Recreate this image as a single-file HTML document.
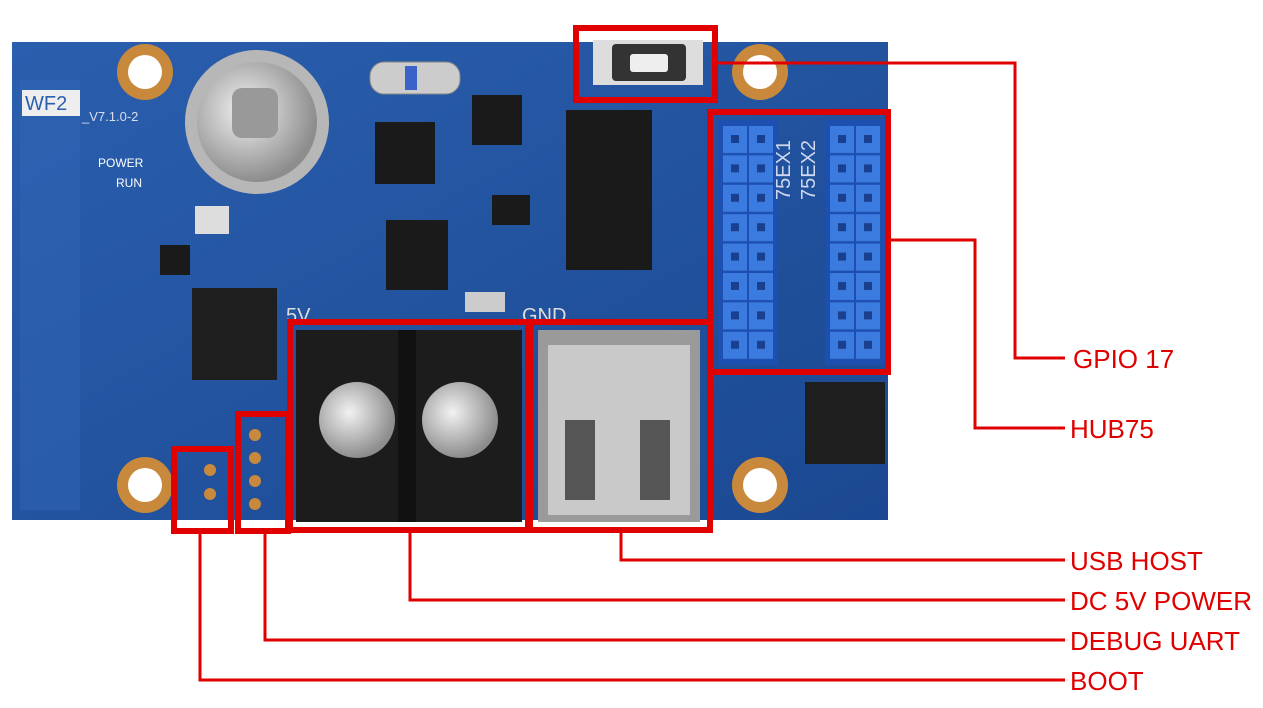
<!DOCTYPE html>
<html><head><meta charset="utf-8"><style>
html,body{margin:0;padding:0;background:#fff;width:1263px;height:708px;overflow:hidden}
svg{display:block}
text{font-family:"Liberation Sans",sans-serif}
</style></head><body>
<svg width="1263" height="708" viewBox="0 0 1263 708" xmlns="http://www.w3.org/2000/svg">
<defs>
<linearGradient id="b" x1="0" y1="0" x2="1" y2="1"><stop offset="0" stop-color="#2a5fae"/><stop offset="1" stop-color="#1b4891"/></linearGradient>
<radialGradient id="s" cx="0.4" cy="0.4" r="0.6"><stop offset="0" stop-color="#f2f2f2"/><stop offset="1" stop-color="#8d8d8d"/></radialGradient>
<pattern id="pins" x="722" y="125" width="26" height="29.4" patternUnits="userSpaceOnUse">
<rect x="1" y="1" width="24" height="27" fill="#3b7be0"/><rect x="9" y="10" width="8" height="8" fill="#1a3f8f"/></pattern>
<pattern id="pins2" x="829" y="125" width="26" height="29.4" patternUnits="userSpaceOnUse">
<rect x="1" y="1" width="24" height="27" fill="#3b7be0"/><rect x="9" y="10" width="8" height="8" fill="#1a3f8f"/></pattern>
</defs>
<rect x="12" y="42" width="876" height="478" fill="url(#b)"/>
<rect x="20" y="80" width="60" height="430" fill="#2f66b5" opacity="0.5"/>
<g fill="#c8893c"><circle cx="145" cy="72" r="28"/><circle cx="760" cy="72" r="28"/><circle cx="145" cy="485" r="28"/><circle cx="760" cy="485" r="28"/></g>
<g fill="#fff"><circle cx="145" cy="72" r="17"/><circle cx="760" cy="72" r="17"/><circle cx="145" cy="485" r="17"/><circle cx="760" cy="485" r="17"/></g>
<rect x="22" y="90" width="58" height="26" fill="#eee"/>
<text x="25" y="110" font-size="20" fill="#2a5fae">WF2</text>
<text x="82" y="121" font-size="13" fill="#dde">_V7.1.0-2</text>
<text x="98" y="167" font-size="12" fill="#fff">POWER</text>
<text x="116" y="187" font-size="12" fill="#fff">RUN</text>
<circle cx="257" cy="122" r="72" fill="#b7b7b7"/>
<circle cx="257" cy="122" r="60" fill="url(#s)"/>
<rect x="232" y="88" width="46" height="50" rx="10" fill="#999"/>
<rect x="370" y="62" width="90" height="32" rx="14" fill="#ccc" stroke="#888"/>
<rect x="405" y="66" width="12" height="24" fill="#3a62c9"/>
<rect x="375" y="122" width="60" height="62" fill="#1a1a1a"/>
<rect x="386" y="220" width="62" height="70" fill="#1a1a1a"/>
<rect x="566" y="110" width="86" height="160" fill="#1a1a1a"/>
<rect x="192" y="288" width="85" height="92" fill="#1e1e1e"/>
<rect x="805" y="382" width="80" height="82" fill="#1e1e1e"/>
<rect x="195" y="206" width="34" height="28" fill="#ddd"/>
<rect x="465" y="292" width="40" height="20" fill="#ccc"/>
<g fill="#1a1a1a"><rect x="472" y="95" width="50" height="50"/><rect x="492" y="195" width="38" height="30"/><rect x="160" y="245" width="30" height="30"/></g>
<text x="286" y="322" font-size="20" fill="#ddd">5V</text>
<text x="522" y="322" font-size="20" fill="#ddd">GND</text>
<rect x="718" y="120" width="60" height="245" fill="#1d4fb0"/>
<rect x="825" y="120" width="60" height="245" fill="#1d4fb0"/>
<rect x="722" y="125" width="52" height="235" fill="url(#pins)"/>
<rect x="829" y="125" width="52" height="235" fill="url(#pins2)"/>
<text x="790" y="200" font-size="20" fill="#cfd8ee" transform="rotate(-90 790 200)">75EX1</text>
<text x="815" y="200" font-size="20" fill="#cfd8ee" transform="rotate(-90 815 200)">75EX2</text>
<rect x="593" y="40" width="110" height="45" fill="#ddd"/>
<rect x="612" y="44" width="74" height="37" rx="4" fill="#333"/>
<rect x="630" y="54" width="38" height="18" rx="3" fill="#eee"/>
<rect x="296" y="330" width="226" height="192" fill="#1c1c1c"/>
<rect x="398" y="330" width="18" height="192" fill="#111"/>
<circle cx="357" cy="420" r="38" fill="url(#s)"/>
<circle cx="460" cy="420" r="38" fill="url(#s)"/>
<rect x="538" y="330" width="162" height="192" fill="#9a9a9a"/>
<rect x="548" y="345" width="142" height="170" fill="#c9c9c9"/>
<rect x="565" y="420" width="30" height="80" fill="#555"/><rect x="640" y="420" width="30" height="80" fill="#555"/>
<g fill="#c8893c"><circle cx="255" cy="435" r="6"/><circle cx="255" cy="458" r="6"/><circle cx="255" cy="481" r="6"/><circle cx="255" cy="504" r="6"/><circle cx="210" cy="470" r="6"/><circle cx="210" cy="494" r="6"/></g>
<g fill="none" stroke="#e00000" stroke-width="6">
<rect x="576" y="28" width="139" height="72"/>
<rect x="710" y="112" width="178" height="260"/>
<rect x="290" y="322" width="238" height="208"/>
<rect x="530" y="322" width="180" height="208"/>
<rect x="238" y="414" width="50" height="117"/>
<rect x="174" y="449" width="57" height="82"/>
</g>
<g fill="none" stroke="#e00000" stroke-width="3">
<polyline points="716,63 1015,63 1015,358 1065,358"/>
<polyline points="890,240 975,240 975,428 1065,428"/>
<polyline points="621,530 621,560 1065,560"/>
<polyline points="410,530 410,600 1065,600"/>
<polyline points="265,531 265,640 1065,640"/>
<polyline points="200,531 200,680 1065,680"/>
</g>
<g fill="#e00000" font-size="26">
<text x="1073" y="368">GPIO 17</text>
<text x="1070" y="438">HUB75</text>
<text x="1070" y="570">USB HOST</text>
<text x="1070" y="610">DC 5V POWER</text>
<text x="1070" y="650">DEBUG UART</text>
<text x="1070" y="690">BOOT</text>
</g>
</svg>
</body></html>
